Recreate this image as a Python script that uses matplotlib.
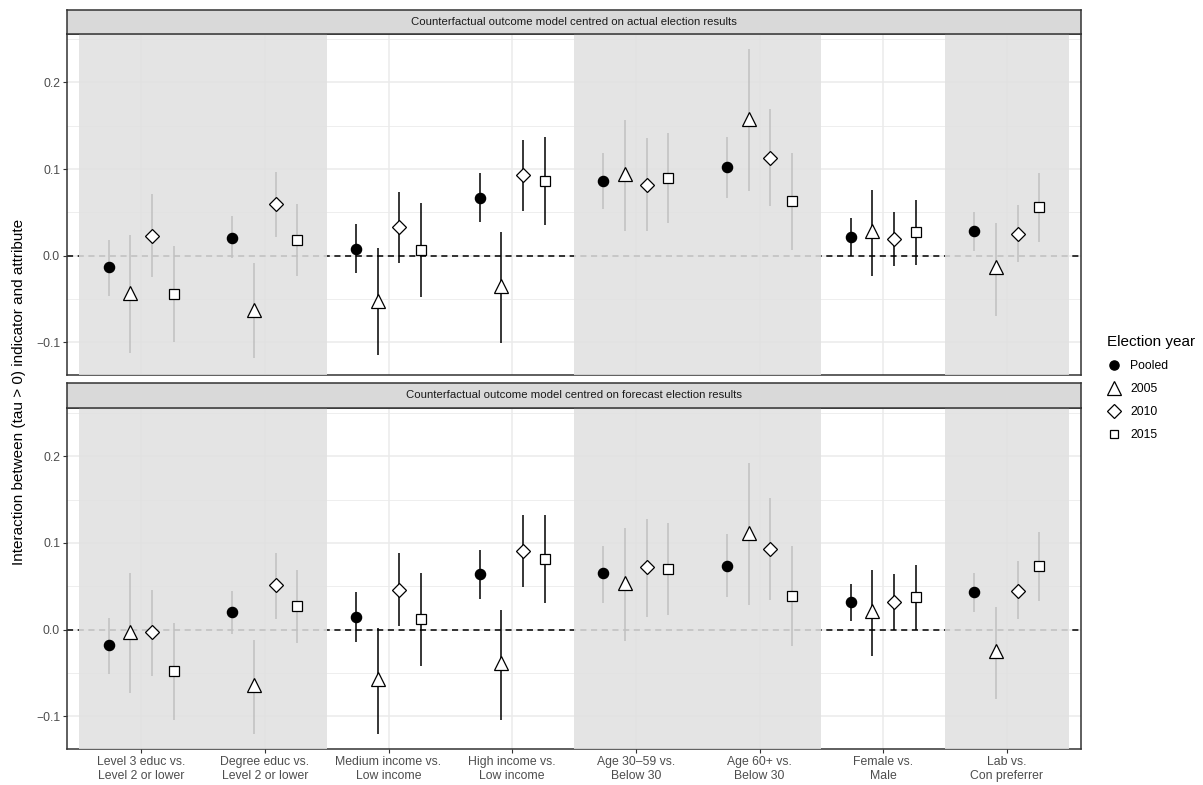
import matplotlib.pyplot as plt
from matplotlib.lines import Line2D
import numpy as np

plt.rcParams["font.family"] = ["Liberation Sans", "DejaVu Sans"]

categories = [
    "Level 3 educ vs.\nLevel 2 or lower",
    "Degree educ vs.\nLevel 2 or lower",
    "Medium income vs.\nLow income",
    "High income vs.\nLow income",
    "Age 30\u201359 vs.\nBelow 30",
    "Age 60+ vs.\nBelow 30",
    "Female vs.\nMale",
    "Lab vs.\nCon preferrer",
]
years = ["Pooled", "2005", "2010", "2015"]
shaded = [True, True, False, False, True, True, False, True]

# rows: Pooled, 2005, 2010, 2015 ; columns: categories
actual_est = [
    [-0.013, 0.021, 0.008, 0.067, 0.086, 0.102, 0.022, 0.028],
    [-0.043, -0.062, -0.052, -0.035, 0.094, 0.158, 0.029, -0.013],
    [0.023, 0.060, 0.033, 0.093, 0.082, 0.113, 0.019, 0.025],
    [-0.044, 0.018, 0.007, 0.086, 0.090, 0.063, 0.027, 0.056],
]
actual_lo = [
    [-0.046, -0.003, -0.020, 0.039, 0.054, 0.067, 0.000, 0.006],
    [-0.112, -0.118, -0.115, -0.101, 0.028, 0.075, -0.023, -0.069],
    [-0.025, 0.022, -0.008, 0.052, 0.029, 0.057, -0.012, -0.007],
    [-0.100, -0.023, -0.047, 0.036, 0.038, 0.007, -0.011, 0.016],
]
actual_hi = [
    [0.018, 0.046, 0.037, 0.095, 0.118, 0.137, 0.043, 0.051],
    [0.024, -0.008, 0.009, 0.027, 0.157, 0.238, 0.076, 0.038],
    [0.071, 0.097, 0.073, 0.134, 0.136, 0.169, 0.050, 0.058],
    [0.011, 0.060, 0.061, 0.137, 0.141, 0.118, 0.064, 0.095],
]

forecast_est = [
    [-0.018, 0.020, 0.015, 0.064, 0.065, 0.074, 0.032, 0.043],
    [-0.003, -0.064, -0.057, -0.038, 0.054, 0.112, 0.022, -0.025],
    [-0.003, 0.051, 0.046, 0.091, 0.072, 0.093, 0.032, 0.045],
    [-0.048, 0.027, 0.012, 0.082, 0.070, 0.039, 0.038, 0.073],
]
forecast_lo = [
    [-0.051, -0.005, -0.014, 0.035, 0.031, 0.038, 0.010, 0.020],
    [-0.073, -0.120, -0.120, -0.104, -0.013, 0.028, -0.030, -0.080],
    [-0.053, 0.012, 0.004, 0.049, 0.015, 0.034, 0.000, 0.012],
    [-0.104, -0.015, -0.042, 0.031, 0.017, -0.019, 0.000, 0.033],
]
forecast_hi = [
    [0.014, 0.045, 0.044, 0.092, 0.097, 0.110, 0.053, 0.065],
    [0.065, -0.012, 0.002, 0.023, 0.117, 0.192, 0.069, 0.026],
    [0.046, 0.089, 0.089, 0.132, 0.128, 0.152, 0.064, 0.079],
    [0.008, 0.069, 0.065, 0.132, 0.123, 0.096, 0.075, 0.113],
]

panels = [
    ("Counterfactual outcome model centred on actual election results",
     actual_est, actual_lo, actual_hi),
    ("Counterfactual outcome model centred on forecast election results",
     forecast_est, forecast_lo, forecast_hi),
]

markers = {
    "Pooled": dict(marker="o", ms=7.4, mfc="black", mec="black"),
    "2005": dict(marker="^", ms=10.5, mfc="white", mec="black"),
    "2010": dict(marker="D", ms=7.6, mfc="white", mec="black"),
    "2015": dict(marker="s", ms=7.0, mfc="white", mec="black"),
}

fig = plt.figure(figsize=(12.03, 7.85), dpi=100)

left, width = 0.0557, 0.8429
axes_pos = [(0.5223, 0.4344), (0.0459, 0.4344)]
strip_pos = [(0.9567, 0.0306), (0.4803, 0.0318)]

x = np.arange(1, len(categories) + 1)
dodge = 0.175
offsets = [-1.5, -0.5, 0.5, 1.5]

for i, (title, est, lo, hi) in enumerate(panels):
    b, h = axes_pos[i]
    ax = fig.add_axes([left, b, width, h])
    ax.set_xlim(0.4, 8.6)
    ax.set_ylim(-0.1375, 0.2557)

    # gridlines
    for yv in [-0.1, 0.0, 0.1, 0.2]:
        ax.axhline(yv, color="#ebebeb", lw=1.1, zorder=0)
    for yv in [-0.05, 0.05, 0.15, 0.25]:
        ax.axhline(yv, color="#ebebeb", lw=0.6, zorder=0)
    for xv in x:
        ax.axvline(xv, color="#ebebeb", lw=1.1, zorder=0)

    ax.axhline(0, color="black", lw=1.1, ls=(0, (4, 3)), zorder=2)

    for j, yr in enumerate(years):
        xs = x + offsets[j] * dodge
        ax.vlines(xs, lo[j], hi[j], color="black", lw=1.1, zorder=2)

    # shaded bands drawn over bars so they appear grey
    for k, s in enumerate(shaded):
        if s:
            ax.axvspan(x[k] - 0.5, x[k] + 0.5, facecolor="#e0e0e0",
                       alpha=0.86, lw=0, zorder=3)

    for j, yr in enumerate(years):
        xs = x + offsets[j] * dodge
        ax.plot(xs, est[j], ls="none", mew=0.9, zorder=4, **markers[yr])

    ax.set_yticks([-0.1, 0.0, 0.1, 0.2])
    ax.set_yticklabels(["\u22120.1", "0.0", "0.1", "0.2"])
    ax.set_xticks(x)
    ax.tick_params(axis="both", colors="#333333", labelcolor="#4d4d4d",
                   labelsize=8.8, length=3, width=0.8, pad=2)
    if i == 1:
        ax.set_xticklabels(categories)
    else:
        ax.set_xticklabels([])
        ax.tick_params(axis="x", length=0)
    for sp in ax.spines.values():
        sp.set_color("#333333")
        sp.set_linewidth(1.1)

    sb, sh = strip_pos[i]
    sax = fig.add_axes([left, sb, width, sh])
    sax.set_facecolor("#d9d9d9")
    sax.set_xticks([])
    sax.set_yticks([])
    for sp in sax.spines.values():
        sp.set_color("#333333")
        sp.set_linewidth(1.1)
    sax.text(0.5, 0.5, title, ha="center", va="center", fontsize=8.2,
             color="#1a1a1a", transform=sax.transAxes)

fig.text(0.016, 0.5006, "Interaction between (tau > 0) indicator and attribute",
         rotation=90, ha="center", va="center", fontsize=11, color="black")

handles = [Line2D([], [], ls="none", mew=0.9, **markers[yr]) for yr in years]
leg = fig.legend(handles, years, title="Election year", loc="upper left",
                 bbox_to_anchor=(1102 / 1203, 1 - 330 / 785), frameon=False,
                 fontsize=8.8, title_fontsize=11, handletextpad=0.7,
                 labelspacing=0.9, handlelength=1.2, borderaxespad=0,
                 markerscale=0.9)
leg._legend_box.align = "left"

fig.savefig("out.png", dpi=100)
